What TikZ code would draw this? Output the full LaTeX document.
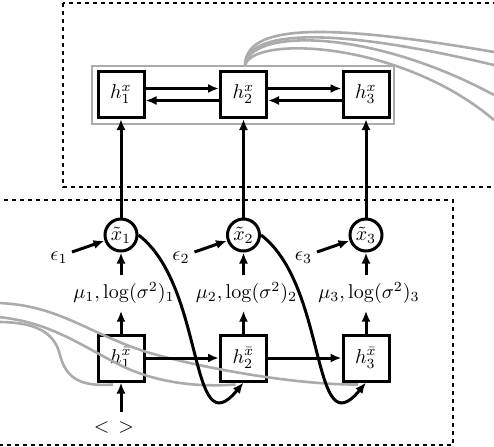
\documentclass[tikz,border=0pt]{standalone}
\usetikzlibrary{arrows.meta}
\begin{document}
\begin{tikzpicture}[x=0.5pt,y=-0.5pt,
  blk/.style={line width=1.5pt},
  arr/.style={blk,-{Latex[length=5.5pt,width=4.5pt]}},
  hbox/.style={draw,line width=1.5pt,minimum size=23pt,inner sep=0pt},
  xcirc/.style={draw,circle,line width=1.5pt,minimum size=16pt,inner sep=0pt},
  gline/.style={draw=black!33,line width=1.3pt},
  dbox/.style={line width=1pt,dash pattern=on 2pt off 2pt},
  lbl/.style={inner sep=3.33pt},
]
\useasboundingbox (0,0) rectangle (494,446);
\clip (0,0) rectangle (494,446);

% dashed regions
\draw[dbox] (63,3) rectangle (520,187);
\draw[dbox] (-20,200) rectangle (453,445);

% nodes
\node[hbox] (hx1) at (121,94.5) {$h^x_1$};
\node[hbox] (hx2) at (243.5,94.5) {$h^x_2$};
\node[hbox] (hx3) at (366,94.5) {$h^x_3$};
\node[draw=black!33,line width=1.2pt,minimum width=151pt,minimum height=29pt,inner sep=0pt] (grp) at (243,95) {};

\node[xcirc] (x1) at (121,235) {$\tilde{x}_1$};
\node[xcirc] (x2) at (243.5,235) {$\tilde{x}_2$};
\node[xcirc] (x3) at (366,235) {$\tilde{x}_3$};

\node[lbl] (m1) at (124,293) {$\mu_1,\log(\sigma^2)_1$};
\node[lbl] (m2) at (246.5,293) {$\mu_2,\log(\sigma^2)_2$};
\node[lbl] (m3) at (369,293) {$\mu_3,\log(\sigma^2)_3$};

\node[hbox] (hb1) at (121,358) {$h^{\bar{x}}_1$};
\node[hbox] (hb2) at (243.5,358) {$h^{\bar{x}}_2$};
\node[hbox] (hb3) at (366,358) {$h^{\bar{x}}_3$};

\node[inner sep=0pt] (e1) at (59,258) {$\epsilon_1$};
\node[inner sep=0pt] (e2) at (181,258) {$\epsilon_2$};
\node[inner sep=0pt] (e3) at (303.5,258) {$\epsilon_3$};
\coordinate (e1s) at (72,252);
\coordinate (e2s) at (194.5,252);
\coordinate (e3s) at (317,252);

\node[inner sep=0pt] (start) at (114,427) {$<$\hspace{4.5pt}$>$};
\coordinate (starts) at (121,412);

% gray connectors
\coordinate (gtop) at (245,66);
\coordinate (gend1) at (494,52);
\coordinate (gend2) at (494,65);
\coordinate (gend3) at (494,95);
\coordinate (gend4) at (494,120);
\draw[gline] (gtop) .. controls (245,25) and (320,22) .. (gend1);
\draw[gline] (gtop) .. controls (246,30) and (330,26) .. (gend2);
\draw[gline] (gtop) .. controls (248,28) and (370,28) .. (gend3);
\draw[gline] (gtop) .. controls (250,35) and (400,40) .. (gend4);

\coordinate (gl1) at (-2,303);
\coordinate (gl2) at (-2,317);
\coordinate (gl3) at (-2,322);
\draw[gline] (gl1) .. controls (60,305) and (90,335) .. (150,353) .. controls (210,370) and (300,385) .. ([xshift=-4pt,yshift=-1pt]hb3.south);
\draw[gline] (gl2) .. controls (50,322) and (80,345) .. (120,365) .. controls (150,380) and (190,388) .. ([xshift=-4pt,yshift=-1pt]hb2.south);
\draw[gline] (gl3) .. controls (40,322) and (55,335) .. (60,355) .. controls (66,378) and (80,387) .. ([xshift=-4pt,yshift=-1pt]hb1.south);

% black connectors
\draw[arr] ([yshift=3pt]hx1.east) -- ([yshift=3pt]hx2.west);
\draw[arr] ([yshift=-3pt]hx2.west) -- ([yshift=-3pt]hx1.east);
\draw[arr] ([yshift=3pt]hx2.east) -- ([yshift=3pt]hx3.west);
\draw[arr] ([yshift=-3pt]hx3.west) -- ([yshift=-3pt]hx2.east);

\draw[arr] (x1) -- (hx1);
\draw[arr] (x2) -- (hx2);
\draw[arr] (x3) -- (hx3);

\draw[arr] (x1 |- m1.north) -- (x1);
\draw[arr] (x2 |- m2.north) -- (x2);
\draw[arr] (x3 |- m3.north) -- (x3);

\draw[arr] (hb1) -- (hb1 |- m1.south);
\draw[arr] (hb2) -- (hb2 |- m2.south);
\draw[arr] (hb3) -- (hb3 |- m3.south);

\draw[arr] (e1s) -- (x1);
\draw[arr] (e2s) -- (x2);
\draw[arr] (e3s) -- (x3);

\draw[arr] (hb1) -- (hb2);
\draw[arr] (hb2) -- (hb3);

\draw[arr] (starts) -- (hb1);

\draw[arr] (x1.east) .. controls +(67,51) and +(-55,67) .. (hb2.south);
\draw[arr] (x2.east) .. controls +(67,51) and +(-55,67) .. (hb3.south);
\end{tikzpicture}
\end{document}
